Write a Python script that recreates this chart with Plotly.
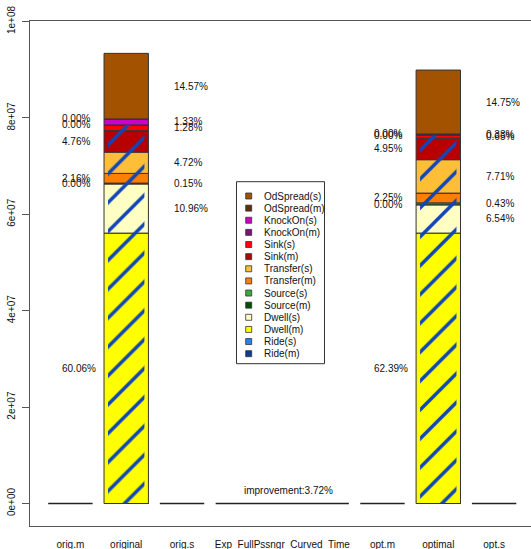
import numpy as np
import plotly.graph_objects as go

# ---- data -------------------------------------------------------------
categories = ["orig.m", "original", "orig.s",
              "Exp\u00a0 FullPssngr\u00a0 Curved\u00a0 Time",
              "opt.m", "optimal", "opt.s"]
slot_widths = [1, 1, 1, 3, 1, 1, 1]

# stack order, bottom to top
series = ["Ride(m)", "Ride(s)", "Dwell(m)", "Dwell(s)", "Source(m)", "Source(s)",
          "Transfer(m)", "Transfer(s)", "Sink(m)", "Sink(s)",
          "KnockOn(m)", "KnockOn(s)", "OdSpread(m)", "OdSpread(s)"]
series_colors = ["#083C9A", "#1E88F0", "#FFFF00", "#FFFFC4", "#005000", "#33B033",
                 "#FF8000", "#FFBE38", "#B80000", "#FF0000",
                 "#7F0F7F", "#CC00CC", "#5A3008", "#A35200"]

# share of each component in the bar total (%)
original_pct = [0.00, 0.00, 60.06, 10.96, 0.00, 0.15, 2.16, 4.72, 4.76, 1.28,
                0.00, 1.33, 0.00, 14.57]
optimal_pct = [0.00, 0.00, 62.39, 6.54, 0.00, 0.43, 2.25, 7.71, 4.95, 0.65,
               0.00, 0.33, 0.00, 14.75]
original_total = 9.34e7
optimal_total = 8.9925e7

# hatched overlay runs from zero up to the top of this component
hatch_through = "Sink(s)"

yticks = [0, 2e7, 4e7, 6e7, 8e7, 1e8]
yticklabels = ["0e+00", "2e+07", "4e+07", "6e+07", "8e+07", "1e+08"]

# ---- geometry helpers ---------------------------------------------------
W, H = 531, 549
ML, MR, MT, MB = 30, 0, 21, 23
PW, PH = W - ML - MR, H - MT - MB

gap = 0.2 * np.mean(slot_widths)
lefts = np.concatenate([[0.0], np.cumsum(np.array(slot_widths[:-1]) + gap)])
centers = lefts + np.array(slot_widths) / 2
rights = lefts + np.array(slot_widths)

px_per_unit = 44.4
x_lo = -(48.2 - ML) / px_per_unit
x_hi = x_lo + PW / px_per_unit

zero_px = 503.5
px_per_val = 482 / 1e8
y_lo = -(MT + PH - zero_px) / px_per_val
y_hi = (zero_px - MT) / px_per_val


def px_to_paper_x(px):
    return (px - ML) / PW


def px_to_paper_y(py):
    return (MT + PH - py) / PH


FONT = "Liberation Sans, Arial, Helvetica, sans-serif"
HATCH = "#1046B8"

fig = go.Figure()

i_orig = categories.index("original")
i_opt = categories.index("optimal")
stacks = [(i_orig, original_pct, original_total), (i_opt, optimal_pct, optimal_total)]

# stacked segments
bases = {}
for ci, pct, total in stacks:
    vals = np.array(pct) / 100.0 * total
    bases[ci] = (np.concatenate([[0.0], np.cumsum(vals)[:-1]]), vals)

for k, name in enumerate(series):
    xs, ys, bs = [], [], []
    for ci, pct, total in stacks:
        b, v = bases[ci]
        xs.append(centers[ci])
        ys.append(v[k])
        bs.append(b[k])
    fig.add_trace(go.Bar(
        x=xs, y=ys, base=bs, width=1.0, name=name, showlegend=False,
        marker=dict(color=series_colors[k], line=dict(color="#333333", width=1)),
    ))

# hatched overlay
k_h = series.index(hatch_through)
hx, hy = [], []
for ci, pct, total in stacks:
    b, v = bases[ci]
    hx.append(centers[ci])
    hy.append(b[k_h] + v[k_h])
fig.add_trace(go.Bar(
    x=hx, y=hy, base=[0, 0], width=0.82, showlegend=False,
    marker=dict(color="rgba(0,0,0,0)", line=dict(width=0),
                pattern=dict(shape="/", fgcolor=HATCH, fgopacity=1.0,
                             bgcolor="rgba(0,0,0,0)",
                             size=20.4, solidity=0.17, fillmode="overlay")),
))

# empty categories are drawn as flat bars at zero
totals = [0.0] * len(categories)
totals[i_orig] = original_total
totals[i_opt] = optimal_total
lx, ly = [], []
for i, t in enumerate(totals):
    if t == 0:
        lx += [lefts[i], rights[i], None]
        ly += [t, t, None]
fig.add_trace(go.Scatter(x=lx, y=ly, mode="lines", showlegend=False,
                         line=dict(color="#222222", width=1.3)))

# percentage labels: (m) components on the left, (s) components on the right
annotations = []
slot_of = {i_orig: (0, 2), i_opt: (4, 6)}
for ci, pct, total in stacks:
    b, v = bases[ci]
    m_slot, s_slot = slot_of[ci]
    for k, name in enumerate(series):
        if name.startswith("Ride"):
            continue
        slot = m_slot if name.endswith("(m)") else s_slot
        annotations.append(dict(
            x=centers[slot] - 0.23, y=b[k] + v[k] / 2, xref="x", yref="y",
            text=f"{pct[k]:.2f}%", showarrow=False, xanchor="left", yanchor="middle",
            font=dict(family=FONT, size=10, color="#111111"),
        ))

improvement = (1 - optimal_total / original_total) * 100
i_mid = 3
annotations.append(dict(
    x=centers[i_mid] + 0.14, y=2.8e6, xref="x", yref="y",
    text=f"improvement:{improvement:.2f}%", showarrow=False,
    xanchor="center", yanchor="middle",
    font=dict(family=FONT, size=10, color="#111111"),
))

# legend box drawn by hand (top to bottom = reverse stack order)
shapes = []
lg_left, lg_right, lg_top, lg_bottom = 236.5, 324.5, 181.7, 363.7
shapes.append(dict(type="rect", xref="paper", yref="paper",
                   x0=px_to_paper_x(lg_left), x1=px_to_paper_x(lg_right),
                   y0=px_to_paper_y(lg_bottom), y1=px_to_paper_y(lg_top),
                   line=dict(color="#333333", width=1), fillcolor="white", layer="above"))
row0, row_step = 196.0, 12.13
sw_cx, sw_half, text_x = 248.7, 3.0, 261.5
for r, k in enumerate(reversed(range(len(series)))):
    cy = row0 + r * row_step
    shapes.append(dict(type="rect", xref="paper", yref="paper",
                       x0=px_to_paper_x(sw_cx - sw_half), x1=px_to_paper_x(sw_cx + sw_half),
                       y0=px_to_paper_y(cy + sw_half), y1=px_to_paper_y(cy - sw_half),
                       line=dict(color="#333333", width=0.8),
                       fillcolor=series_colors[k], layer="above"))
    annotations.append(dict(
        x=px_to_paper_x(text_x), y=px_to_paper_y(cy), xref="paper", yref="paper",
        text=series[k], showarrow=False, xanchor="left", yanchor="middle",
        font=dict(family=FONT, size=10, color="#111111"),
    ))

fig.update_layout(
    width=W, height=H, autosize=False,
    margin=dict(l=ML, r=MR, t=MT, b=MB, pad=0, autoexpand=False),
    paper_bgcolor="white", plot_bgcolor="white",
    barmode="overlay", showlegend=False,
    font=dict(family=FONT, size=10, color="#111111"),
    annotations=annotations, shapes=shapes,
    xaxis=dict(range=[x_lo, x_hi], showgrid=False, zeroline=False, automargin=False,
               showline=True, mirror=True, linecolor="#555555", linewidth=1,
               tickvals=list(centers), ticktext=categories, ticks="",
               ticklabelstandoff=9, tickfont=dict(family=FONT, size=10, color="#111111")),
    yaxis=dict(range=[y_lo, y_hi], showgrid=False, zeroline=False, automargin=False,
               showline=True, linecolor="#555555", linewidth=1,
               tickvals=yticks, ticktext=yticklabels, ticks="outside", ticklen=7,
               tickcolor="#555555", tickangle=-90, ticklabelstandoff=3,
               tickfont=dict(family=FONT, size=10, color="#111111")),
)

fig.write_html("out.html")
